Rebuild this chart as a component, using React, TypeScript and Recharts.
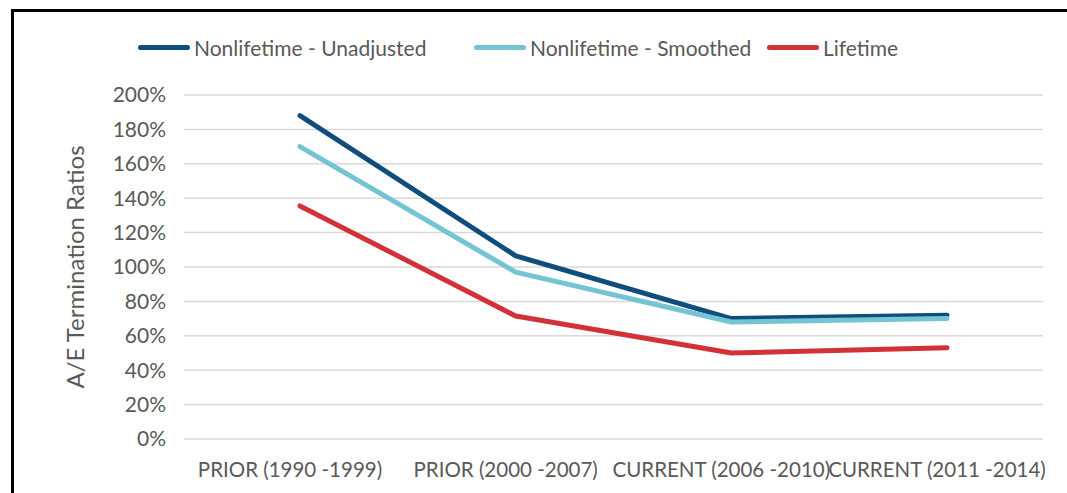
import React from "react"
import {
  LineChart,
  Line,
  XAxis,
  YAxis,
  CartesianGrid,
  Legend,
} from "recharts"

const categories = [
  "PRIOR (1990 -1999)",
  "PRIOR (2000 -2007)",
  "CURRENT (2006 -2010)",
  "CURRENT (2011 -2014)",
]
const unadjusted = [188, 106.5, 70, 72]
const smoothed = [170, 97, 68, 70]
const lifetime = [135.5, 71.5, 50, 53]
const yTicks = [0, 20, 40, 60, 80, 100, 120, 140, 160, 180, 200]

const FONT = "Lato, 'Open Sans', sans-serif"
const TEXT = "#595959"

const series = [
  { key: "unadjusted", name: "Nonlifetime - Unadjusted", color: "#0E4D7C" },
  { key: "smoothed", name: "Nonlifetime - Smoothed", color: "#74C4D4" },
  { key: "lifetime", name: "Lifetime", color: "#D3313A" },
]
// legend slot widths, as laid out in the original
const legendSlots = [336, 293, 200]

const data = categories.map((label, i) => ({
  label,
  unadjusted: unadjusted[i],
  smoothed: smoothed[i],
  lifetime: lifetime[i],
}))

const LegendRow = () => (
  <div style={{ display: "flex", alignItems: "center", paddingLeft: 138, fontFamily: FONT, fontSize: 21, color: TEXT }}>
    {series.map((s, i) => (
      <div key={s.key} style={{ display: "flex", alignItems: "center", width: legendSlots[i], whiteSpace: "nowrap" }}>
        <span style={{ width: 52, height: 5, borderRadius: 3, background: s.color, marginRight: 4, flex: "none" }} />
        <span>{s.name}</span>
      </div>
    ))}
  </div>
)

export default function App() {
  return (
    <div style={{ position: "absolute", left: 0, top: 0, width: 1067, height: 493, overflow: "hidden", background: "#fff" }}>
      <div
        style={{
          position: "absolute",
          left: 11,
          top: 9,
          width: 1080,
          height: 500,
          borderTop: "3px solid #000",
          borderLeft: "3px solid #000",
        }}
      />
      <div style={{ position: "absolute", left: 0, top: 0 }}>
        <LineChart width={1067} height={493} data={data} margin={{ top: 70, right: 24, bottom: 24, left: 0 }}>
          <CartesianGrid vertical={false} stroke="#D9D9D9" strokeWidth={1.5} />
          <XAxis
            dataKey="label"
            scale="point"
            padding={{ left: 116, right: 96 }}
            axisLine={false}
            tickLine={false}
            tickMargin={17}
            interval={0}
            dx={-10}
            tick={{ fill: TEXT, fontSize: 20.5, fontFamily: FONT }}
          />
          <YAxis
            width={184}
            domain={[0, 200]}
            ticks={yTicks}
            tickFormatter={(v) => `${v}%`}
            axisLine={false}
            tickLine={false}
            tickMargin={12}
            tick={{ fill: TEXT, fontSize: 21, fontFamily: FONT }}
            label={{
              value: "A/E Termination Ratios",
              angle: -90,
              position: "insideLeft",
              offset: 75,
              style: { textAnchor: "middle", fill: TEXT, fontSize: 24, fontFamily: FONT },
            }}
          />
          <Legend verticalAlign="top" content={<LegendRow />} wrapperStyle={{ top: 35, left: 0, width: 1067 }} />
          {series.map((s) => (
            <Line
              key={s.key}
              dataKey={s.key}
              name={s.name}
              stroke={s.color}
              strokeWidth={5}
              strokeLinecap="round"
              strokeLinejoin="round"
              dot={false}
              activeDot={false}
              type="linear"
              isAnimationActive={false}
            />
          ))}
        </LineChart>
      </div>
    </div>
  )
}
